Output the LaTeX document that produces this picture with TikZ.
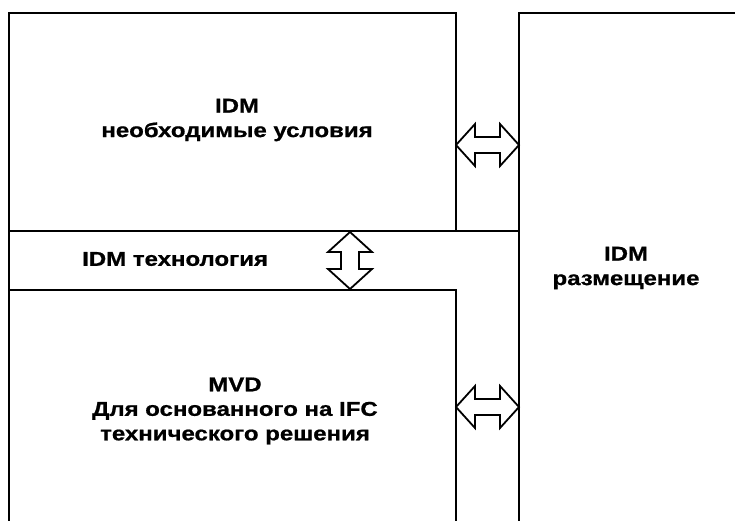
\documentclass[tikz,border=0pt]{standalone}
\usepackage{fontspec}
\setmainfont{Liberation Sans}[FakeStretch=1.2, BoldFeatures={FakeBold=0.8}]
\usetikzlibrary{calc}
\tikzset{
  frame/.style={line width=2.5pt, line cap=rect},
  lbl/.style={font=\fontsize{20}{24.5}\selectfont\bfseries, align=center, inner sep=0pt},
  dbl/.style={line width=1.8pt, fill=white, line join=miter}
}
% horizontal double arrow between two named points
\newcommand{\harr}[2]{%
  \draw[dbl] (#1) -- ($(#1)+(19,-21)$) -- ($(#1)+(19,-8)$) -- ($(#2)+(-19,-8)$) -- ($(#2)+(-19,-21)$) -- (#2)
    -- ($(#2)+(-19,21)$) -- ($(#2)+(-19,8)$) -- ($(#1)+(19,8)$) -- ($(#1)+(19,21)$) -- cycle;}
% vertical double arrow between two named points (first is upper)
\newcommand{\varr}[2]{%
  \draw[dbl] (#1) -- ($(#1)+(22,20)$) -- ($(#1)+(9,20)$) -- ($(#2)+(9,-20)$) -- ($(#2)+(22,-20)$) -- (#2)
    -- ($(#2)+(-22,-20)$) -- ($(#2)+(-9,-20)$) -- ($(#1)+(-9,20)$) -- ($(#1)+(-22,20)$) -- cycle;}
\begin{document}
\begin{tikzpicture}[x=1pt,y=-1pt]
\useasboundingbox (0,0) rectangle (735,520);
\clip (0,0) rectangle (735,520);
\fill[white] (0,0) rectangle (735,520);
% frames
\draw[frame] (9,540) -- (9,13) -- (456,13) -- (456,231);
\draw[frame] (9,231) -- (519,231);
\draw[frame] (519,540) -- (519,13) -- (760,13);
\draw[frame] (9,290) -- (456,290) -- (456,540);
% texts
\node[lbl] (req) at (237,120) {IDM\\необходимые условия};
\node[lbl, anchor=west] (tech) at (82,259) {IDM технология};
\node[lbl] (place) at (626,268) {IDM\\размещение};
\node[lbl] (mvd) at (235,411) {MVD\\Для основанного на IFC\\технического решения};
% arrow end points
\coordinate (a1l) at (456,145);
\coordinate (a1r) at (519,145);
\coordinate (a2l) at (456,407);
\coordinate (a2r) at (519,407);
\coordinate (a3t) at (350,232);
\coordinate (a3b) at (350,289);
\harr{a1l}{a1r}
\harr{a2l}{a2r}
\varr{a3t}{a3b}
\end{tikzpicture}
\end{document}
